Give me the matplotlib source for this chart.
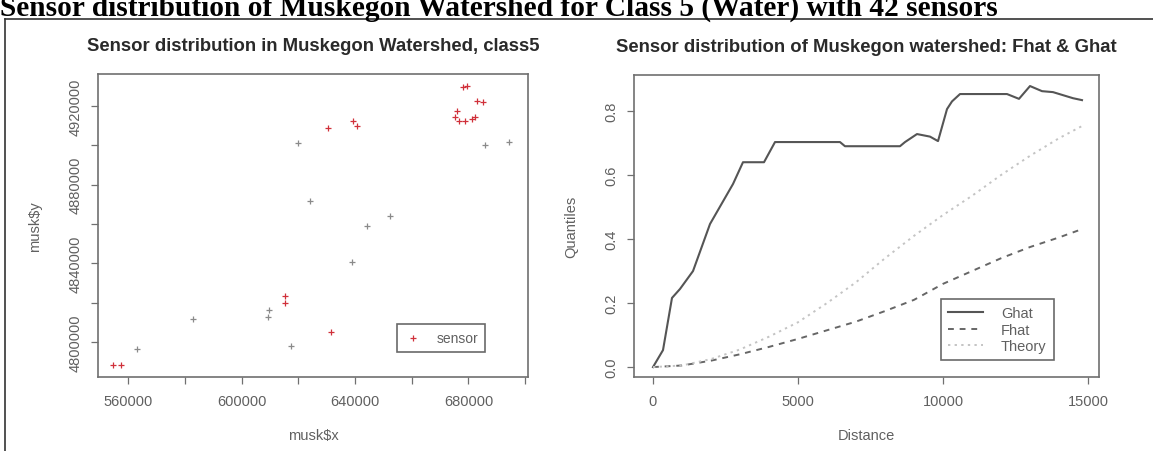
import matplotlib.pyplot as plt
from matplotlib.lines import Line2D
from matplotlib.ticker import FixedLocator

plt.rcParams['font.family'] = ['Liberation Sans', 'DejaVu Sans']

# sensor positions (UTM), red = class 5 sensors, grey = the faint ones
red_x = [554710, 557530, 615370, 615370, 630540, 639360, 640770, 631600,
         678160, 679570, 683090, 685210, 676040, 675330, 676740, 678860,
         681330, 682390]
red_y = [4788300, 4788300, 4823410, 4819850, 4908900, 4912460, 4909920, 4805090,
         4929770, 4930280, 4922640, 4922140, 4917560, 4914500, 4912470, 4912470,
         4913480, 4914500]
grey_x = [563170, 582930, 609730, 609380, 617490, 619960, 624190, 652410,
          644300, 639010, 685920, 694380]
grey_y = [4796440, 4811700, 4816290, 4812720, 4797960, 4901270, 4871750, 4864120,
          4859030, 4840710, 4900250, 4901780]

# G / F functions
ghat_x = [0, 345, 655, 931, 1380, 1966, 2759, 3103, 3828, 4207, 6448, 6620, 8517,
          8690, 9103, 9552, 9828, 10138, 10310, 10586, 12207, 12620, 13000, 13414,
          13793, 14483, 14793]
ghat_y = [0.0, 0.053, 0.216, 0.244, 0.30, 0.447, 0.572, 0.64, 0.64, 0.703, 0.703,
          0.69, 0.69, 0.703, 0.728, 0.72, 0.706, 0.806, 0.83, 0.853, 0.853, 0.838,
          0.878, 0.862, 0.859, 0.84, 0.834]
dist = [0, 1000, 2000, 3000, 4000, 5000, 6000, 7000, 8000, 9000, 10000, 11000,
        12000, 13000, 14000, 14793]
fhat = [0.0, 0.005, 0.02, 0.04, 0.063, 0.088, 0.115, 0.142, 0.175, 0.21, 0.26,
        0.30, 0.34, 0.375, 0.405, 0.431]
theory = [0.0, 0.005, 0.025, 0.055, 0.095, 0.14, 0.2, 0.265, 0.34, 0.41, 0.475,
          0.535, 0.6, 0.66, 0.715, 0.753]

W, H = 1153, 452
fig = plt.figure(figsize=(W / 100, H / 100), dpi=100)

def px_axes(x0, y0, x1, y1):
    return fig.add_axes([x0 / W, 1 - y1 / H, (x1 - x0) / W, (y1 - y0) / H])

grey = '#707070'
txt = '#606060'

# page heading (cut at the top) and the box around the figure
fig.text(0 / W, 1 - 16 / H, 'Sensor distribution of Muskegon Watershed for Class 5 (Water) with 42 sensors',
         family=['Liberation Serif', 'DejaVu Serif'], weight='bold', fontsize=21.2, va='baseline')
fig.add_artist(Line2D([5 / W, 5 / W], [0, 1 - 20 / H], transform=fig.transFigure, color='#333', lw=1.2))
fig.add_artist(Line2D([5 / W, 1], [1 - 20 / H, 1 - 20 / H], transform=fig.transFigure, color='#333', lw=1.2))

def style(ax):
    for s in ax.spines.values():
        s.set_color(grey)
        s.set_linewidth(1.2)
    ax.tick_params(which='both', length=5, width=0.9, color=grey, labelcolor=txt,
                   labelsize=10.5, pad=7)
    ax.tick_params(axis='y', which='both', labelrotation=90, pad=6)
    for lab in ax.get_yticklabels():
        lab.set_va('center')

# ---- left: sensor map
ax1 = px_axes(98, 75, 528, 378)
ax1.scatter(grey_x, grey_y, marker='+', s=22, color='#8a8a8a', linewidths=0.9)
ax1.scatter(red_x, red_y, marker='+', s=22, color='#d0303a', linewidths=0.9, label='sensor')
ax1.set_xlim(549400, 701000)
ax1.set_ylim(4782200, 4936300)
ax1.set_xticks([560000, 600000, 640000, 680000])
ax1.xaxis.set_minor_locator(FixedLocator([580000, 620000, 660000, 700000]))
ax1.set_yticks([4800000, 4840000, 4880000, 4920000])
ax1.yaxis.set_minor_locator(FixedLocator([4820000, 4860000, 4900000]))
ax1.ticklabel_format(useOffset=False, style='plain')
style(ax1)
ax1.set_title('Sensor distribution in Muskegon Watershed, class5', fontsize=13.3,
              weight='bold', color='#2a2a2a', pad=17)
ax1.set_xlabel(r'musk\$x', color=txt, fontsize=10.5, labelpad=15)
ax1.set_ylabel(r'musk\$y', color=txt, fontsize=10.5, labelpad=19)
leg1 = ax1.legend(loc='lower right', bbox_to_anchor=(0.9, 0.083), fontsize=10,
                  fancybox=False, edgecolor='#444', borderpad=0.5, handlelength=1.3,
                  handletextpad=1.0, borderaxespad=0)
leg1.get_frame().set_linewidth(1.2)
for t in leg1.get_texts():
    t.set_color(txt)

# ---- right: Fhat & Ghat
ax2 = px_axes(634, 76, 1099, 378)
ax2.plot(ghat_x, ghat_y, color='#555555', lw=1.5, label='Ghat')
ax2.plot(dist, fhat, color='#666666', lw=1.4, ls=(0, (3, 3)), label='Fhat')
ax2.plot(dist, theory, color='#c4c4c4', lw=1.4, ls=(0, (1.2, 2.2)), label='Theory')
ax2.set_xlim(-655, 15379)
ax2.set_ylim(-0.031, 0.9125)
ax2.set_xticks([0, 5000, 10000, 15000])
ax2.set_yticks([0.0, 0.2, 0.4, 0.6, 0.8])
ax2.set_yticklabels(['0.0', '0.2', '0.4', '0.6', '0.8'])
style(ax2)
ax2.set_title('Sensor distribution of Muskegon watershed: Fhat & Ghat', fontsize=13.3,
              weight='bold', color='#2a2a2a', pad=17)
ax2.set_xlabel('Distance', color=txt, fontsize=10.5, labelpad=15)
ax2.set_ylabel('Quantiles', color=txt, fontsize=10.5, labelpad=19)
leg2 = ax2.legend(loc='lower right', bbox_to_anchor=(0.903, 0.056), fontsize=10.5,
                  fancybox=False, edgecolor='#444', borderpad=0.5, handlelength=2.4,
                  handletextpad=1.2, labelspacing=0.15, borderaxespad=0)
leg2.get_frame().set_linewidth(1.2)
for t in leg2.get_texts():
    t.set_color(txt)

fig.savefig('out.png', dpi=100)
